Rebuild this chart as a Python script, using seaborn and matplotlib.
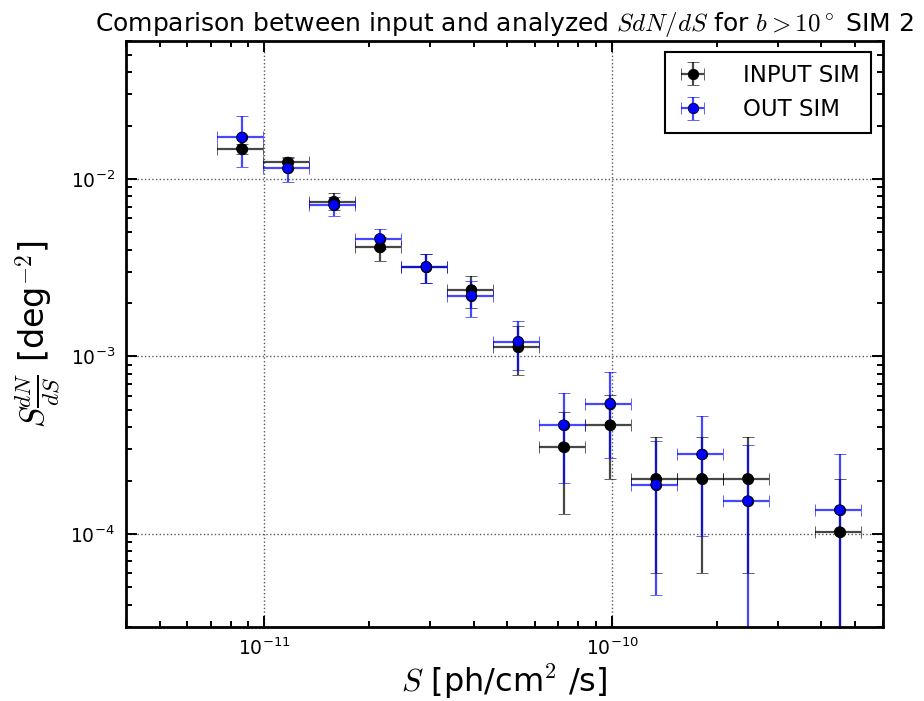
import matplotlib
matplotlib.use("Agg")
import matplotlib.pyplot as plt
import matplotlib.ticker as mticker
import seaborn as sns
import numpy as np
import pandas as pd

# ---- data ----
flux = [8.61e-12, 1.167e-11, 1.585e-11, 2.147e-11, 2.92e-11, 3.94e-11, 5.37e-11,
        7.25e-11, 9.87e-11, 1.337e-10, 1.812e-10, 2.455e-10, 4.51e-10]
bin_lo = [7.32e-12, 9.91e-12, 1.343e-11, 1.820e-11, 2.466e-11, 3.354e-11, 4.54e-11,
          6.15e-11, 8.34e-11, 1.134e-10, 1.533e-10, 2.085e-10, 3.82e-10]
bin_hi = [9.91e-12, 1.343e-11, 1.820e-11, 2.466e-11, 3.354e-11, 4.54e-11, 6.15e-11,
          8.34e-11, 1.134e-10, 1.533e-10, 2.085e-10, 2.826e-10, 5.20e-10]

input_val = [1.481e-2, 1.242e-2, 7.47e-3, 4.115e-3, 3.208e-3, 2.372e-3, 1.129e-3,
             3.088e-4, 4.107e-4, 2.048e-4, 2.048e-4, 2.048e-4, 1.026e-4]
input_hi = [1.574e-2, 1.335e-2, 8.31e-3, 4.72e-3, 3.78e-3, 2.856e-3, 1.488e-3,
            4.835e-4, 6.08e-4, 3.50e-4, 3.50e-4, 3.50e-4, 2.048e-4]
input_lo = [1.383e-2, 1.153e-2, 6.69e-3, 3.467e-3, 2.608e-3, 1.871e-3, 7.88e-4,
            1.301e-4, 2.048e-4, 6.0e-5, 6.0e-5, 6.0e-5, 1e-7]

out_val = [1.717e-2, 1.149e-2, 7.14e-3, 4.61e-3, 3.208e-3, 2.203e-3, 1.214e-3,
           4.107e-4, 5.43e-4, 1.894e-4, 2.806e-4, 1.534e-4, 1.365e-4]
out_hi = [2.263e-2, 1.313e-2, 7.95e-3, 5.25e-3, 3.78e-3, 2.666e-3, 1.587e-3,
          6.26e-4, 8.23e-4, 3.34e-4, 4.615e-4, 3.17e-4, 2.83e-4]
out_lo = [1.173e-2, 9.66e-3, 6.21e-3, 4.04e-3, 2.608e-3, 1.665e-3, 8.38e-4,
          1.936e-4, 2.678e-4, 4.55e-5, 9.78e-5, 1e-7, 1e-7]

series_names = ["INPUT SIM", "OUT SIM"]
x_major = [1e-11, 1e-10]
y_major = [1e-4, 1e-3, 1e-2]
xlim = (4e-12, 6e-10)
ylim = (3e-5, 6e-2)

df = pd.DataFrame({
    "S": flux * 2,
    "val": input_val + out_val,
    "series": [series_names[0]] * len(flux) + [series_names[1]] * len(flux),
})

# ---- style ----
sns.set_style("white")
plt.rcParams.update({
    "font.family": ["DejaVu Sans"],
    "mathtext.fontset": "cm",
    "axes.unicode_minus": False,
    "text.color": "black",
    "axes.labelcolor": "black",
    "xtick.direction": "in",
    "ytick.direction": "in",
    "xtick.bottom": True,
    "ytick.left": True,
    "xtick.top": True,
    "ytick.right": True,
    "xtick.major.size": 8,
    "xtick.minor.size": 4.5,
    "ytick.major.size": 8,
    "ytick.minor.size": 4.5,
    "xtick.major.width": 1.4,
    "xtick.minor.width": 1.4,
    "ytick.major.width": 1.4,
    "ytick.minor.width": 1.4,
    "xtick.color": "black",
    "ytick.color": "black",
    "axes.edgecolor": "black",
    "axes.linewidth": 2.0,
})

fig = plt.figure(figsize=(9.24, 7.01), dpi=100)
ax = fig.add_axes([126 / 924, 1 - 626.7 / 701, (882.7 - 126) / 924, (626.7 - 41) / 701])

colors = {"INPUT SIM": "black", "OUT SIM": "blue"}
ecolors = {"INPUT SIM": (0, 0, 0, 0.72), "OUT SIM": (0, 0, 1, 0.72)}

xarr = np.array(flux)
xerr = [xarr - np.array(bin_lo), np.array(bin_hi) - xarr]
handles = []
for name, vals, lo, hi in [(series_names[0], input_val, input_lo, input_hi),
                           (series_names[1], out_val, out_lo, out_hi)]:
    v = np.array(vals)
    yerr = [v - np.array(lo), np.array(hi) - v]
    h = ax.errorbar(xarr, v, xerr=xerr, yerr=yerr, fmt="o", color=colors[name],
                    ecolor=ecolors[name], elinewidth=1.6, capsize=4.5, capthick=1.6,
                    markersize=7.5, markeredgecolor="black", markeredgewidth=0.6,
                    label=name)
    handles.append(h)

# markers through seaborn (on the same log axes)
sns.scatterplot(data=df, x="S", y="val", hue="series", palette=colors, s=56,
                edgecolor="black", linewidth=0.6, ax=ax, legend=False, zorder=3)

ax.set_xscale("log")
ax.set_yscale("log")
ax.set_xlim(*xlim)
ax.set_ylim(*ylim)
ax.xaxis.set_major_locator(mticker.FixedLocator(x_major))
ax.yaxis.set_major_locator(mticker.FixedLocator(y_major))
ax.xaxis.set_major_formatter(mticker.LogFormatterSciNotation())
ax.yaxis.set_major_formatter(mticker.LogFormatterSciNotation())
ax.xaxis.set_minor_formatter(mticker.NullFormatter())
ax.yaxis.set_minor_formatter(mticker.NullFormatter())
ax.grid(True, which="major", linestyle=":", color="0.35", linewidth=1.0)
ax.tick_params(axis="both", which="major", labelsize=13.5, pad=8)
for s in ax.spines.values():
    s.set_visible(True)
    s.set_linewidth(2.0)
    s.set_color("black")

ax.set_xlabel(r"$S$ [ph/cm$^2$ /s]", fontsize=23, labelpad=2)
ax.set_ylabel(r"$S\frac{dN}{dS}$ [deg$^{-2}$]", fontsize=24, labelpad=6)
ax.set_title(r"Comparison between input and analyzed $SdN/dS$ for $b>10^\circ$ SIM 2",
             fontsize=18, pad=7)

leg = ax.legend(handles=handles, labels=series_names, loc="upper right", numpoints=1,
                fontsize=16.5, frameon=True, fancybox=False, borderaxespad=0.5,
                handlelength=1.4, handletextpad=1.5, borderpad=0.5, labelspacing=0.5)
leg.get_frame().set_edgecolor("black")
leg.get_frame().set_linewidth(1.5)
leg.get_frame().set_alpha(1)

fig.savefig("out.png", dpi=100)
